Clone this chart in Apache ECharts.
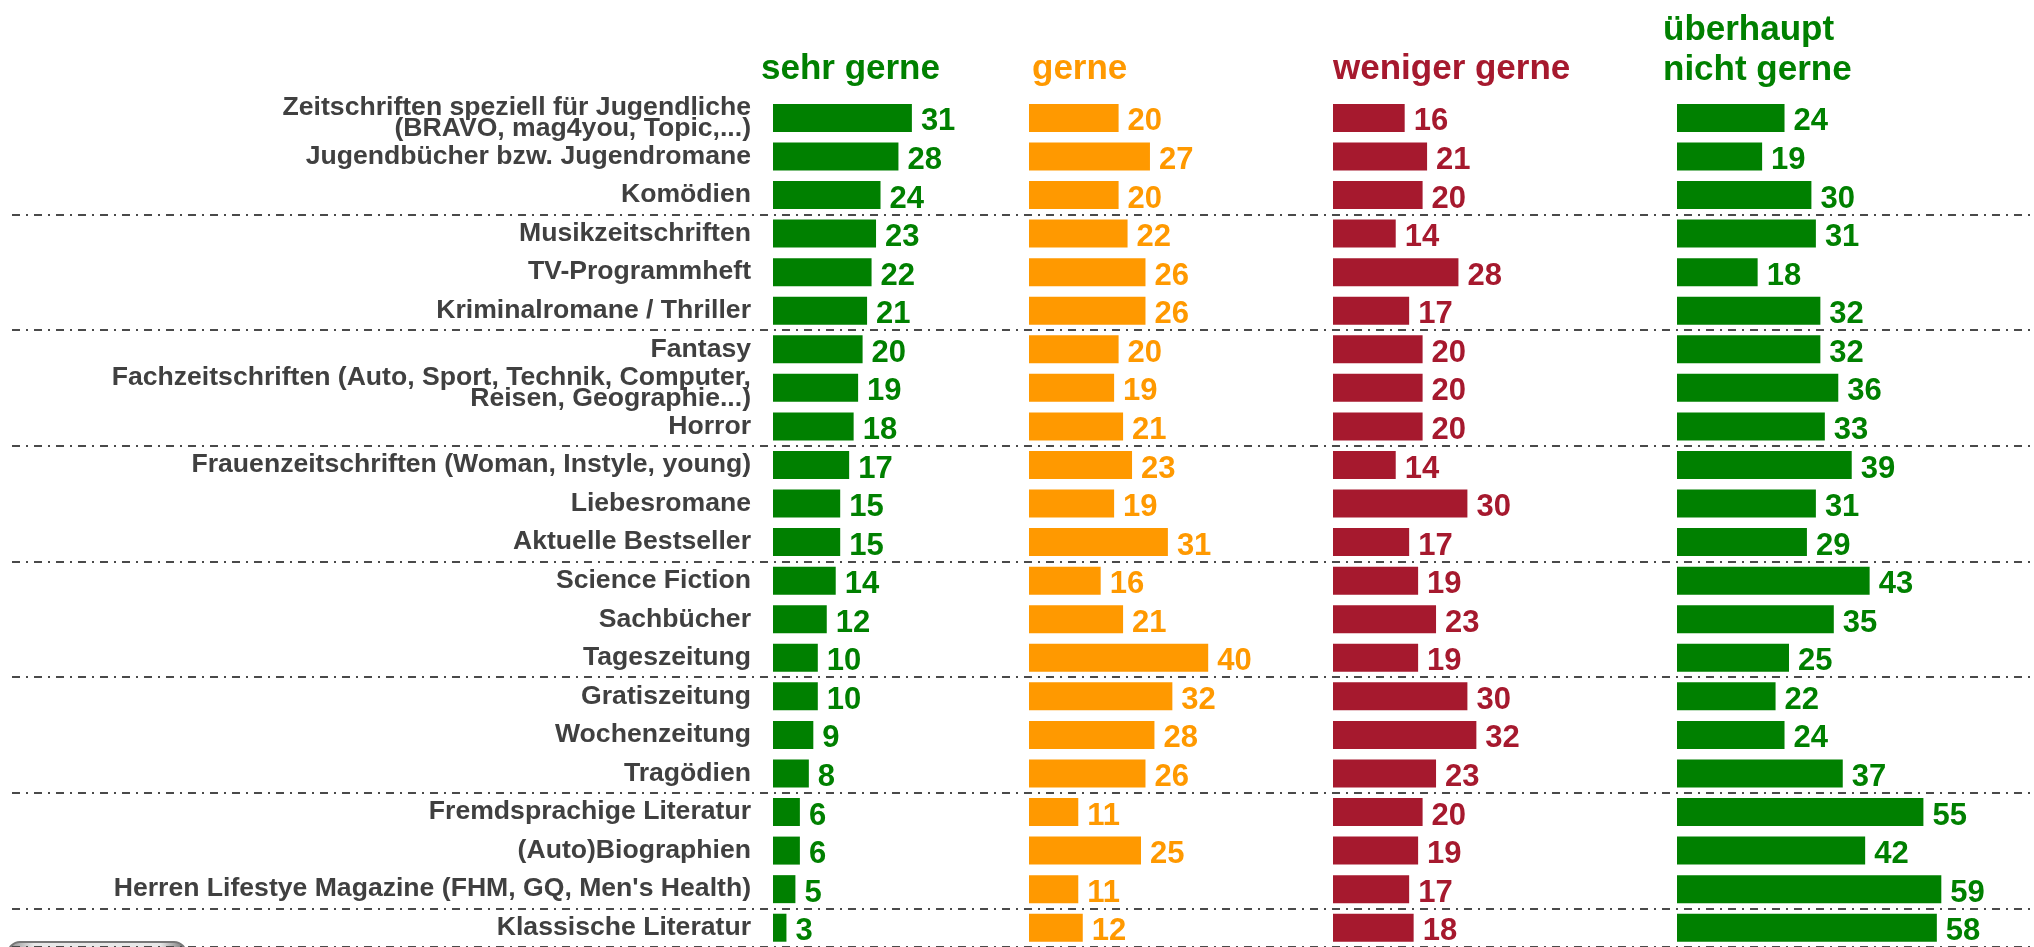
<!DOCTYPE html>
<html>
<head>
<meta charset="utf-8">
<script src="https://cdn.jsdelivr.net/npm/echarts@6/dist/echarts.min.js"></script>
<style>
html, body { margin: 0; padding: 0; background: #fff; }
#main { width: 2034px; height: 947px; }
</style>
</head>
<body>
<div id="main"></div>
<script>
var categories = [
    'Zeitschriften speziell für Jugendliche\n(BRAVO, mag4you, Topic,...)',
    'Jugendbücher bzw. Jugendromane',
    'Komödien',
    'Musikzeitschriften',
    'TV-Programmheft',
    'Kriminalromane / Thriller',
    'Fantasy',
    'Fachzeitschriften (Auto, Sport, Technik, Computer,\nReisen, Geographie...)',
    'Horror',
    'Frauenzeitschriften (Woman, Instyle, young)',
    'Liebesromane',
    'Aktuelle Bestseller',
    'Science Fiction',
    'Sachbücher',
    'Tageszeitung',
    'Gratiszeitung',
    'Wochenzeitung',
    'Tragödien',
    'Fremdsprachige Literatur',
    '(Auto)Biographien',
    "Herren Lifestye Magazine (FHM, GQ, Men's Health)",
    'Klassische Literatur'
];
var sehrGerne     = [31, 28, 24, 23, 22, 21, 20, 19, 18, 17, 15, 15, 14, 12, 10, 10, 9, 8, 6, 6, 5, 3];
var gerne         = [20, 27, 20, 22, 26, 26, 20, 19, 21, 23, 19, 31, 16, 21, 40, 32, 28, 26, 11, 25, 11, 12];
var wenigerGerne  = [16, 21, 20, 14, 28, 17, 20, 20, 20, 14, 30, 17, 19, 23, 19, 30, 32, 23, 20, 19, 17, 18];
var nichtGerne    = [24, 19, 30, 31, 18, 32, 32, 36, 33, 39, 31, 29, 43, 35, 25, 22, 24, 37, 55, 42, 59, 58];
var seriesNames   = ['sehr gerne', 'gerne', 'weniger gerne', 'überhaupt\nnicht gerne'];

var seriesData = [sehrGerne, gerne, wenigerGerne, nichtGerne];
var colors = ['#008000', '#ff9900', '#a6192e', '#008000'];
var font = 'Liberation Sans, Arial, sans-serif';

// layout
var colLeft = [773, 1029, 1333, 1677];
var titleLeft = [761, 1032, 1333, 1663];
var titleTop = [49, 49, 49, 10];
var rowPitch = 38.8;
var gridTop = 118 - rowPitch / 2;
var gridHeight = rowPitch * categories.length;
var xMax = 60;
var pxPerUnit = 4.48;

var grids = [], xAxes = [], yAxes = [], series = [], titles = [];

for (var i = 0; i < 4; i++) {
    grids.push({left: colLeft[i], top: gridTop, width: xMax * pxPerUnit, height: gridHeight});
    xAxes.push({type: 'value', gridIndex: i, min: 0, max: xMax, show: false});
    yAxes.push({
        type: 'category',
        gridIndex: i,
        data: categories,
        inverse: true,
        axisLine: {show: false},
        axisTick: {show: false},
        splitLine: {show: false},
        axisLabel: {
            show: i === 0,
            margin: 22,
            fontSize: 26.6,
            lineHeight: 21,
            fontWeight: 'bold',
            fontFamily: font,
            color: '#404040',
            align: 'right'
        }
    });
    series.push({
        name: seriesNames[i],
        type: 'bar',
        xAxisIndex: i,
        yAxisIndex: i,
        data: seriesData[i],
        barWidth: 28,
        itemStyle: {color: colors[i]},
        label: {
            show: true,
            position: 'right',
            distance: 9,
            offset: [0, 4],
            fontSize: 31,
            fontWeight: 'bold',
            fontFamily: font,
            color: colors[i]
        }
    });
    titles.push({
        text: seriesNames[i],
        left: titleLeft[i],
        top: titleTop[i],
        padding: 0,
        textStyle: {
            fontSize: 35,
            lineHeight: 40,
            fontWeight: 'bold',
            fontFamily: font,
            color: colors[i]
        }
    });
}

// dash-dot separators every three rows, full width
grids.push({left: 12, right: 0, top: gridTop, height: gridHeight});
xAxes.push({type: 'value', gridIndex: 4, min: 0, max: 1, show: false});
yAxes.push({
    type: 'category',
    gridIndex: 4,
    data: categories,
    inverse: true,
    axisLine: {show: false},
    axisTick: {show: false},
    axisLabel: {show: false},
    splitLine: {
        show: true,
        interval: function (index) {
            return index > 0 && index % 3 === 0;
        },
        lineStyle: {color: '#4a4a4a', width: 2, type: [8, 6, 2, 6]}
    }
});

var myChart = echarts.init(document.getElementById('main'));
var option = {
    animation: false,
    backgroundColor: '#ffffff',
    title: titles,
    grid: grids,
    xAxis: xAxes,
    yAxis: yAxes,
    series: series,
    graphic: [{
        type: 'rect',
        left: 7,
        top: 941,
        shape: {width: 178, height: 40, r: 12},
        style: {
            fill: new echarts.graphic.LinearGradient(0, 0, 1, 0, [
                {offset: 0, color: '#8a8a8a'},
                {offset: 0.15, color: '#e8e8e8'},
                {offset: 0.85, color: '#e8e8e8'},
                {offset: 1, color: '#6a6a6a'}
            ]),
            stroke: '#777',
            lineWidth: 2
        }
    }]
};
myChart.setOption(option);
</script>
</body>
</html>
